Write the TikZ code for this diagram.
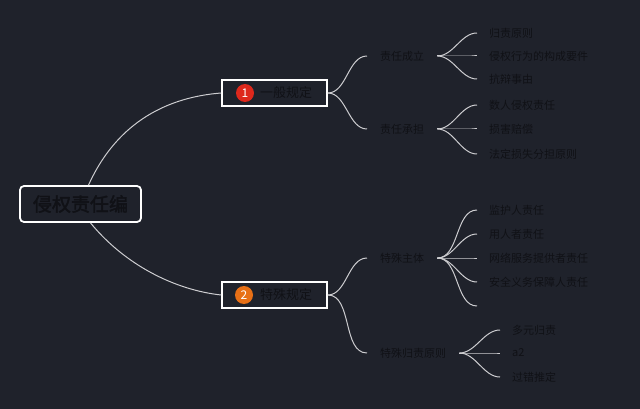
\documentclass[tikz,border=0pt]{standalone}
\usepackage{fontspec}
\setmainfont{Noto Sans CJK SC}
\newfontfamily\rootfont[FakeBold=2]{Noto Sans CJK SC}
\definecolor{bgc}{RGB}{31,34,43}
\definecolor{txt}{RGB}{16,17,22}
\definecolor{lnc}{RGB}{205,205,208}
\definecolor{redc}{RGB}{222,40,28}
\definecolor{orgc}{RGB}{232,112,22}
\tikzset{
  conn/.style={draw=lnc, line width=1pt},
  rootbox/.style={draw=white, line width=1.8pt, rounded corners=4pt, minimum width=121pt, minimum height=36pt, inner sep=0pt, text=txt, font=\rootfont\fontsize{19}{19}\selectfont},
  mainbox/.style={draw=white, line width=1.6pt, minimum width=105pt, minimum height=26pt, inner sep=0pt},
  mainlabel/.style={text=txt, font=\fontsize{13}{13}\selectfont, inner sep=0pt},
  numdot/.style={circle, minimum size=18pt, inner sep=0pt, text=white, font=\fontsize{12}{12}\selectfont},
  midnode/.style={anchor=west, inner xsep=13pt, inner ysep=2pt, text=txt, font=\fontsize{11}{11}\selectfont},
  leaf/.style={anchor=west, inner xsep=12pt, inner ysep=2pt, text=txt, font=\fontsize{11}{11}\selectfont},
  branch/.style={out=0, in=180, looseness=0.9}
}
\begin{document}
\begin{tikzpicture}[x=1pt,y=-1pt]
\fill[bgc] (0,0) rectangle (640,409);
\useasboundingbox (0,0) rectangle (640,409);

% root
\node[rootbox] (root) at (80.5,204) {侵权责任编};

% main boxes
\node[mainbox] (g1) at (274.5,93) {};
\node[numdot, fill=redc] (n1) at (245,93) {1};
\node[mainlabel] (l1) at (286,93) {一般规定};
\node[mainbox] (g2) at (274.5,295) {};
\node[numdot, fill=orgc] (n2) at (244,295) {2};
\node[mainlabel] (l2) at (286,295) {特殊规定};

% root connectors
\draw[conn] ([xshift=8pt]root.north) .. controls (118,120) and (170,97) .. (g1.west);
\draw[conn] ([xshift=10pt]root.south) .. controls (125,265) and (175,290) .. (g2.west);

% middle nodes
\node[midnode] (a1) at (367,56) {责任成立};
\node[midnode] (a2) at (367,129) {责任承担};
\node[midnode] (b1) at (367,258) {特殊主体};
\node[midnode] (b2) at (367,353) {特殊归责原则};

\draw[conn] (g1.east) to[branch] (a1.west);
\draw[conn] (g1.east) to[branch] (a2.west);
\draw[conn] (g2.east) to[branch] (b1.west);
\draw[conn] (g2.east) to[branch] (b2.west);

% leaves of a1
\node[leaf] (a11) at (477,33) {归责原则};
\node[leaf] (a12) at (477,56) {侵权行为的构成要件};
\node[leaf] (a13) at (477,79) {抗辩事由};
\foreach \n in {a11,a12,a13} \draw[conn] (a1.east) to[branch] (\n.west);

% leaves of a2
\node[leaf] (a21) at (477,105) {数人侵权责任};
\node[leaf] (a22) at (477,129) {损害赔偿};
\node[leaf] (a23) at (477,154) {法定损失分担原则};
\foreach \n in {a21,a22,a23} \draw[conn] (a2.east) to[branch] (\n.west);

% leaves of b1
\node[leaf] (b11) at (477,210) {监护人责任};
\node[leaf] (b12) at (477,234) {用人者责任};
\node[leaf] (b13) at (477,258) {网络服务提供者责任};
\node[leaf] (b14) at (477,282) {安全义务保障人责任};
\coordinate (b15) at (477,306);
\foreach \n in {b11,b12,b13,b14} \draw[conn] (b1.east) to[branch] (\n.west);
\draw[conn] (b1.east) to[branch] (b15);

% leaves of b2
\node[leaf] (b21) at (500,330) {多元归责};
\node[leaf] (b22) at (500,353) {a2};
\node[leaf] (b23) at (500,377) {过错推定};
\foreach \n in {b21,b22,b23} \draw[conn] (b2.east) to[branch] (\n.west);
\end{tikzpicture}
\end{document}
